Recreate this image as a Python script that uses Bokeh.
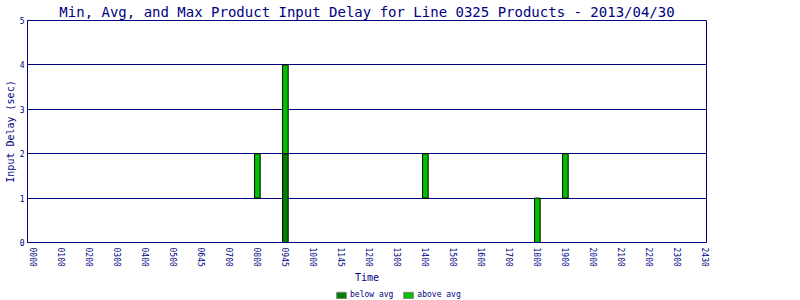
from bokeh.plotting import figure
from bokeh.layouts import column
from bokeh.models import FixedTicker, Legend, LegendItem, ColumnDataSource, Range1d
from bokeh.embed import file_html
from bokeh.resources import INLINE

times = ["0000", "0100", "0200", "0300", "0400", "0500", "0645", "0700", "0800", "0945",
         "1000", "1145", "1200", "1300", "1400", "1500", "1600", "1700", "1800", "1900",
         "2000", "2100", "2200", "2300", "2430"]

bar_times = ["0800", "0945", "1400", "1800", "1900"]
min_delay = [1, 0, 1, 0, 1]
avg_delay = [1, 2, 1, 0, 1]
max_delay = [2, 4, 2, 1, 2]

legend_labels = ["below avg", "above avg"]

NAVY = "#000080"
DARK = "#008000"
LIGHT = "#00C000"
FONT = "DejaVu Sans Mono"

slot = {t: i for i, t in enumerate(times)}
src = ColumnDataSource(dict(x=[slot[t] for t in bar_times], mn=min_delay, avg=avg_delay, mx=max_delay))

p = figure(width=800, height=288, output_backend="svg", toolbar_location=None,
           x_range=Range1d(-0.21, 24.04), y_range=Range1d(0, 5),
           title="Min, Avg, and Max Product Input Delay for Line 0325 Products - 2013/04/30",
           min_border_left=27, min_border_right=94, min_border_top=20, min_border_bottom=46)

p.title.text_font = FONT
p.title.text_font_size = "14px"
p.title.text_font_style = "normal"
p.title.text_color = NAVY
p.title.align = "center"
p.title.offset = 0
p.title.standoff = 2

p.vbar(x="x", bottom="mn", top="avg", width=0.2, source=src,
       fill_color=DARK, line_color="black", line_width=1)
p.vbar(x="x", bottom="avg", top="mx", width=0.2, source=src,
       fill_color=LIGHT, line_color="black", line_width=1)

p.outline_line_color = NAVY
p.outline_line_width = 1
p.outline_line_alpha = 1

p.xgrid.visible = False
p.ygrid.grid_line_color = NAVY
p.ygrid.grid_line_width = 1
p.ygrid.ticker = FixedTicker(ticks=[1, 2, 3, 4])

p.xaxis.ticker = FixedTicker(ticks=list(range(len(times))))
p.xaxis.major_label_overrides = {i: t for i, t in enumerate(times)}
p.yaxis.ticker = FixedTicker(ticks=[0, 1, 2, 3, 4, 5])
p.yaxis.axis_label = "Input Delay (sec)"
p.xaxis.axis_label = "Time"
for ax in (p.xaxis, p.yaxis):
    ax.axis_line_color = NAVY
    ax.major_tick_line_color = None
    ax.minor_tick_line_color = None
    ax.major_tick_out = 0
    ax.major_tick_in = 0
    ax.major_label_text_font = FONT
    ax.major_label_text_font_size = "8px"
    ax.major_label_text_color = NAVY
    ax.axis_label_text_font = FONT
    ax.axis_label_text_font_size = "10px"
    ax.axis_label_text_font_style = "normal"
    ax.axis_label_text_color = NAVY
p.xaxis.major_label_orientation = "vertical"
p.xaxis.major_label_standoff = 5
p.xaxis.axis_label_standoff = 2
p.yaxis.major_label_standoff = 3
p.yaxis.axis_label_standoff = 1

# legend strip below the chart (its frame is aligned with the chart's frame);
# its renderers use the same data but lie below this strip's visible range
p2 = figure(width=800, height=12, output_backend="svg", toolbar_location=None,
            x_axis_type=None, y_axis_type=None,
            x_range=Range1d(-0.21, 24.04), y_range=Range1d(20, 21),
            min_border=0)
p2.grid.visible = False
p2.outline_line_color = None
d1 = p2.vbar(x="x", bottom="mn", top="avg", width=0.2, source=src,
             fill_color=DARK, line_color="gray", line_width=1)
d2 = p2.vbar(x="x", bottom="avg", top="mx", width=0.2, source=src,
             fill_color=LIGHT, line_color="gray", line_width=1)
legend = Legend(items=[LegendItem(label=legend_labels[0], renderers=[d1]),
                       LegendItem(label=legend_labels[1], renderers=[d2])],
                orientation="horizontal", location=(308, 1),
                padding=0, margin=0, spacing=9, glyph_width=12, glyph_height=8,
                label_height=8, label_standoff=3,
                label_text_font=FONT, label_text_font_size="8px", label_text_color=NAVY,
                border_line_color=None, background_fill_alpha=0)
p2.add_layout(legend, "center")

open("out.html", "w").write(file_html(column(p, p2, spacing=0), INLINE))
